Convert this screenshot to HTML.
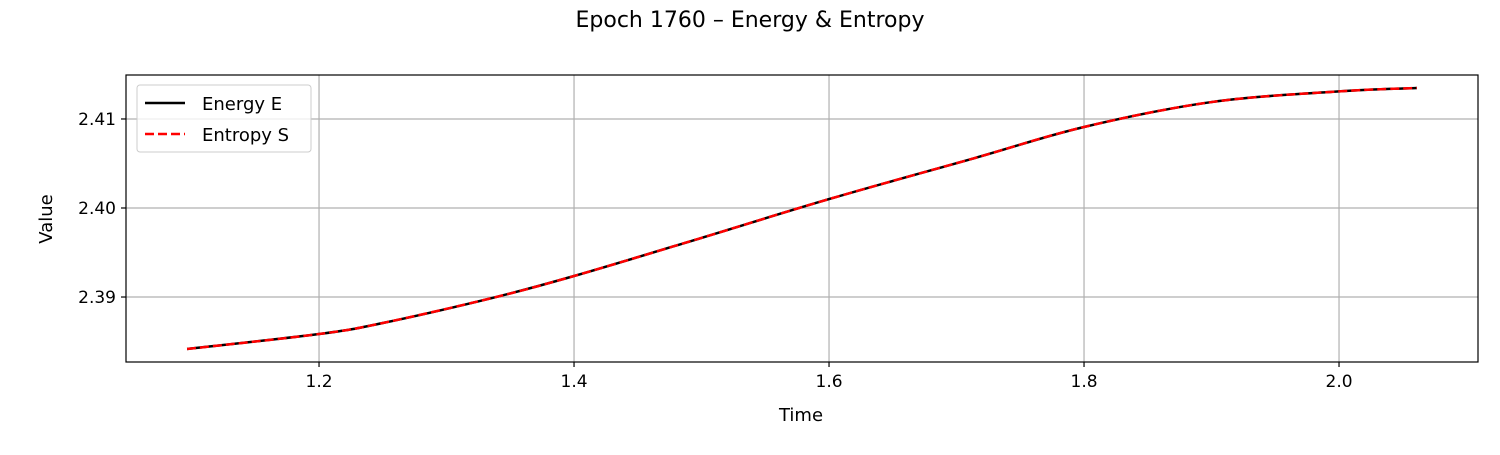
<!DOCTYPE html>
<html><head><meta charset="utf-8"><style>
body{margin:0;background:#fff;}
svg text{font-family:"DejaVu Sans","Liberation Sans",sans-serif;fill:#000;}
</style></head><body>
<svg id="chart" width="1500" height="450" viewBox="0 0 1500 450" xmlns="http://www.w3.org/2000/svg">
<text x="750" y="27" font-size="22" text-anchor="middle">Epoch 1760 – Energy &amp; Entropy</text>
<g id="grid"></g>
<g id="series"></g>
<rect x="126" y="75" width="1352" height="287" fill="none" stroke="#000" stroke-width="1.2"/>
<g id="ticks"></g>
<text x="801" y="421" font-size="18" text-anchor="middle">Time</text>
<text x="52" y="219" font-size="18" text-anchor="middle" transform="rotate(-90 52 219)">Value</text>
<g>
<rect x="137" y="85" width="174" height="67" rx="3" fill="#fff" fill-opacity="0.8" stroke="#ccc"/>
<g>
<line x1="145" y1="103" x2="185" y2="103" stroke="#000" stroke-width="2.5"/>
<text x="202" y="110" font-size="18">Energy E</text></g>
<g>
<line x1="145" y1="134" x2="185" y2="134" stroke="#f00" stroke-width="2.5" stroke-dasharray="9,4"/>
<text x="202" y="141" font-size="18">Entropy S</text></g>
</g>
</svg>
<script>
const times = [1.0965, 1.2, 1.25, 1.336, 1.4, 1.499, 1.6, 1.714, 1.8, 1.9, 2.0, 2.061];
const energy = [2.38416, 2.38584, 2.38708, 2.3899, 2.39236, 2.3966, 2.4010, 2.4056, 2.4091, 2.4119, 2.4131, 2.41348];
const entropy = [2.38416, 2.38584, 2.38708, 2.3899, 2.39236, 2.3966, 2.4010, 2.4056, 2.4091, 2.4119, 2.4131, 2.41348];
const xTicks = [1.2, 1.4, 1.6, 1.8, 2.0];
const xTickLabels = ["1.2", "1.4", "1.6", "1.8", "2.0"];
const yTicks = [2.39, 2.40, 2.41];
const yTickLabels = ["2.39", "2.40", "2.41"];

const X0=126,X1=1478,Y0=75,Y1=362;
const xMin=1.0486,xMax=2.109,yMin=2.38270,yMax=2.41494;
const sx=v=>X0+(v-xMin)/(xMax-xMin)*(X1-X0);
const sy=v=>Y1-(v-yMin)/(yMax-yMin)*(Y1-Y0);
const NS="http://www.w3.org/2000/svg";
const grid=document.getElementById('grid'),ticks=document.getElementById('ticks'),series=document.getElementById('series');
function mk(t,a,p){const e=document.createElementNS(NS,t);for(const k in a)e.setAttribute(k,a[k]);p.appendChild(e);return e;}
xTicks.forEach((v,i)=>{const x=sx(v);
 const g=mk('line',{x1:x,x2:x,y1:Y0,y2:Y1,stroke:'#b0b0b0','stroke-width':1.2},grid);
 
 
 const t=mk('line',{x1:x,x2:x,y1:Y1,y2:Y1+5,stroke:'#000','stroke-width':1.2},ticks);
 
 
 const l=mk('text',{x:x,y:Y1+25,'font-size':17,'text-anchor':'middle'},ticks);l.textContent=xTickLabels[i];
 
 
});
yTicks.forEach((v,i)=>{const y=sy(v);
 const g=mk('line',{x1:X0,x2:X1,y1:y,y2:y,stroke:'#b0b0b0','stroke-width':1.2},grid);
 
 
 const t=mk('line',{x1:X0-5,x2:X0,y1:y,y2:y,stroke:'#000','stroke-width':1.2},ticks);
 
 
 const l=mk('text',{x:X0-10,y:y+6,'font-size':17,'text-anchor':'end'},ticks);l.textContent=yTickLabels[i];
 
 
});
function path(vals){
 const p=times.map((t,i)=>[sx(t),sy(vals[i])]);
 let d='M'+p[0][0]+','+p[0][1];
 for(let i=0;i<p.length-1;i++){
  const p0=p[i-1]||p[i],p1=p[i],p2=p[i+1],p3=p[i+2]||p2;
  const c1=[p1[0]+(p2[0]-p0[0])/6,p1[1]+(p2[1]-p0[1])/6];
  const c2=[p2[0]-(p3[0]-p1[0])/6,p2[1]-(p3[1]-p1[1])/6];
  d+=' C'+c1+' '+c2+' '+p2;
 }
 return d;
}
const e=mk('path',{d:path(energy),fill:'none',stroke:'#000','stroke-width':2.5},series);


const s=mk('path',{d:path(entropy),fill:'none',stroke:'#f00','stroke-width':2.5,'stroke-dasharray':'9,4'},series);


</script>
</body></html>
